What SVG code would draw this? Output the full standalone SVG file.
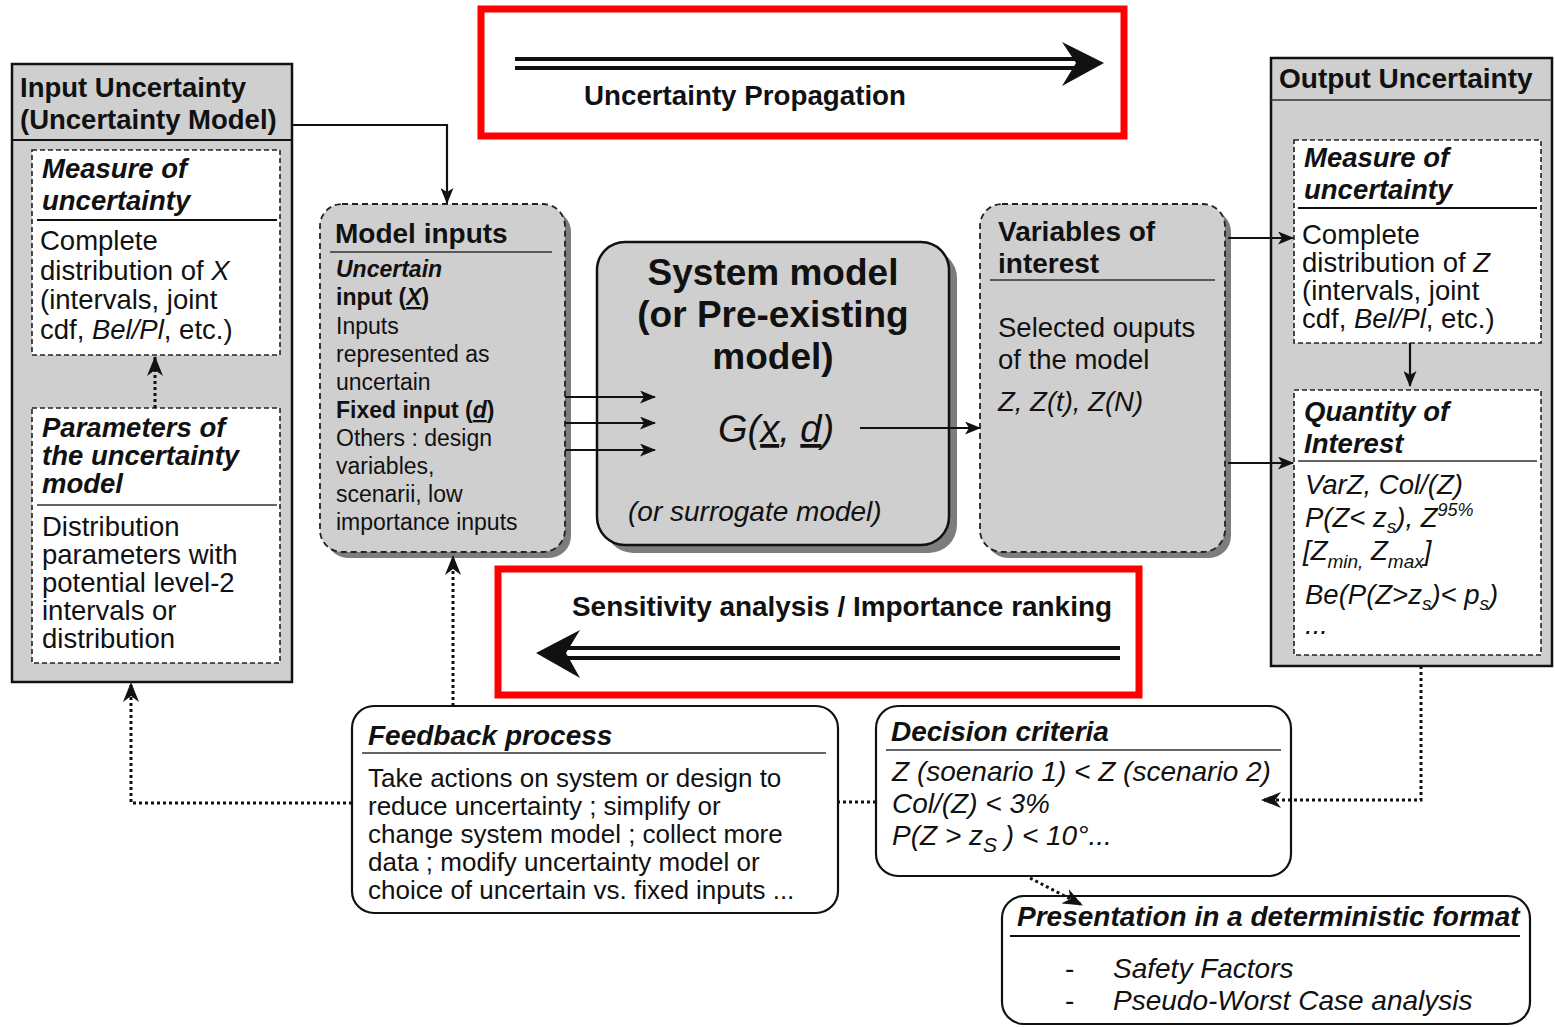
<svg xmlns="http://www.w3.org/2000/svg" width="1555" height="1027" viewBox="0 0 1555 1027">
<style>
  text { font-family: "Liberation Sans", Arial, Helvetica, sans-serif; fill: #111; }
  .b { font-weight: bold; }
  .i { font-style: italic; }
  .bi { font-weight: bold; font-style: italic; }
  .frame { fill: #cfcfcf; stroke: #111; stroke-width: 2.5; }
  .inner { fill: #fff; stroke: #222; stroke-width: 1.6; stroke-dasharray: 5 3; }
  .dashbox { fill: #cfcfcf; stroke: #222; stroke-width: 1.8; stroke-dasharray: 6 4; }
  .solidbox { fill: #cfcfcf; stroke: #111; stroke-width: 2.5; }
  .wbox { fill: #fff; stroke: #111; stroke-width: 2.2; }
  .shadow { fill: #7d7d7d; }
  .rule { stroke: #111; stroke-width: 2; }
  .thin { stroke: #333; stroke-width: 1.3; }
  .conn { fill: none; stroke: #111; stroke-width: 2.2; }
  .dot { fill: none; stroke: #111; stroke-width: 3; stroke-dasharray: 3 3; }
  .red { fill: none; stroke: #ff0000; stroke-width: 7; }
  .dbl { stroke: #111; stroke-width: 4; }
  .t26 { font-size: 27.5px; }
  .t22 { font-size: 23px; }
  .t25 { font-size: 26px; }
  .h28 { font-size: 28px; }
</style>
<defs>
  <marker id="ah" viewBox="0 0 16 13" refX="15" refY="6.5" markerWidth="16" markerHeight="13" markerUnits="userSpaceOnUse" orient="auto">
    <path d="M0,0 L16,6.5 L0,13 L4,6.5 Z" fill="#111"/>
  </marker>
  <marker id="ahd" viewBox="0 0 20 16" refX="19" refY="8" markerWidth="20" markerHeight="16" markerUnits="userSpaceOnUse" orient="auto">
    <path d="M0,0 L20,8 L0,16 L6,8 Z" fill="#111"/>
  </marker>
</defs>

<rect width="1555" height="1027" fill="#fff"/>

<!-- Input uncertainty (outer frame with two nested boxes) -->
<g id="input-uncertainty">
  <rect class="frame" x="12" y="64" width="280" height="618"/>
  <text class="b t26" x="20" y="97">Input Uncertainty</text>
  <text class="b t26" x="20" y="129">(Uncertainty Model)</text>
  <line class="rule" x1="12" y1="140" x2="292" y2="140"/>
</g>
<g id="input-measure">
  <rect class="inner" x="32" y="150" width="248" height="205"/>
  <text class="bi t26" x="42" y="178">Measure of</text>
  <text class="bi t26" x="42" y="210">uncertainty</text>
  <line class="rule" x1="37" y1="220" x2="277" y2="220"/>
  <text class="t26" x="40" y="250">Complete</text>
  <text class="t26" x="40" y="280">distribution of <tspan class="i">X</tspan></text>
  <text class="t26" x="40" y="309">(intervals, joint</text>
  <text class="t26" x="40" y="339">cdf, <tspan class="i">Bel/Pl</tspan>, etc.)</text>
</g>
<g id="input-parameters">
  <rect class="inner" x="32" y="408" width="248" height="255"/>
  <text class="bi t26" x="42" y="437">Parameters of</text>
  <text class="bi t26" x="42" y="465">the uncertainty</text>
  <text class="bi t26" x="42" y="493">model</text>
  <line class="thin" x1="37" y1="505" x2="277" y2="505"/>
  <text class="t26" x="42" y="536">Distribution</text>
  <text class="t26" x="42" y="564">parameters with</text>
  <text class="t26" x="42" y="592">potential level-2</text>
  <text class="t26" x="42" y="620">intervals or</text>
  <text class="t26" x="42" y="648">distribution</text>
</g>

<!-- Model inputs -->
<g id="model-inputs">
  <rect class="shadow" x="326" y="210" width="245" height="348" rx="22"/>
  <rect class="dashbox" x="320" y="204" width="245" height="348" rx="22"/>
  <text class="b h28" x="335" y="243">Model inputs</text>
  <line class="thin" x1="330" y1="252" x2="552" y2="252"/>
  <text class="bi t22" x="336" y="277">Uncertain</text>
  <text class="b t22" x="336" y="305">input (<tspan class="i" text-decoration="underline">X</tspan>)</text>
  <text class="t22" x="336" y="334">Inputs</text>
  <text class="t22" x="336" y="362">represented as</text>
  <text class="t22" x="336" y="390">uncertain</text>
  <text class="b t22" x="336" y="418">Fixed input (<tspan class="i" text-decoration="underline">d</tspan>)</text>
  <text class="t22" x="336" y="446">Others : design</text>
  <text class="t22" x="336" y="474">variables,</text>
  <text class="t22" x="336" y="502">scenarii, low</text>
  <text class="t22" x="336" y="530">importance inputs</text>
</g>

<!-- System model -->
<g id="system-model">
  <rect class="shadow" x="605" y="250" width="352" height="303" rx="28"/>
  <rect class="solidbox" x="597" y="242" width="352" height="303" rx="28"/>
  <text class="b" font-size="37" x="773" y="285" text-anchor="middle">System model</text>
  <text class="b" font-size="37" x="773" y="327" text-anchor="middle">(or Pre-existing</text>
  <text class="b" font-size="37" x="773" y="369" text-anchor="middle">model)</text>
  <text class="i" font-size="38" x="718" y="442">G(<tspan text-decoration="underline">x</tspan>, <tspan text-decoration="underline">d</tspan>)</text>
  <text class="i h28" x="628" y="521">(or surrogate model)</text>
</g>

<!-- Variables of interest -->
<g id="variables-of-interest">
  <rect class="shadow" x="986" y="210" width="245" height="348" rx="22"/>
  <rect class="dashbox" x="980" y="204" width="245" height="348" rx="22"/>
  <text class="b h28" x="998" y="241">Variables of</text>
  <text class="b h28" x="998" y="273">interest</text>
  <line class="thin" x1="990" y1="280" x2="1215" y2="280"/>
  <text class="t26" x="998" y="337">Selected ouputs</text>
  <text class="t26" x="998" y="369">of the model</text>
  <text class="i t26" x="998" y="411">Z, Z(t), Z(N)</text>
</g>

<!-- Output uncertainty -->
<g id="output-uncertainty">
  <rect class="frame" x="1271" y="58" width="281" height="608"/>
  <text class="b h28" x="1279" y="88">Output Uncertainty</text>
  <line class="thin" x1="1271" y1="100" x2="1552" y2="100"/>
</g>
<g id="output-measure">
  <rect class="inner" x="1294" y="140" width="247" height="203"/>
  <text class="bi t26" x="1304" y="167">Measure of</text>
  <text class="bi t26" x="1304" y="199">uncertainty</text>
  <line class="rule" x1="1298" y1="208" x2="1537" y2="208"/>
  <text class="t26" x="1302" y="244">Complete</text>
  <text class="t26" x="1302" y="272">distribution of <tspan class="i">Z</tspan></text>
  <text class="t26" x="1302" y="300">(intervals, joint</text>
  <text class="t26" x="1302" y="328">cdf, <tspan class="i">Bel/Pl</tspan>, etc.)</text>
</g>
<g id="quantity-of-interest">
  <rect class="inner" x="1294" y="390" width="247" height="265"/>
  <text class="bi t26" x="1304" y="421">Quantity of</text>
  <text class="bi t26" x="1304" y="453">Interest</text>
  <line class="thin" x1="1298" y1="461" x2="1537" y2="461"/>
  <text class="i t26" x="1305" y="494">VarZ, Col/(Z)</text>
  <text class="i t26" x="1305" y="527">P(Z&lt; z<tspan font-size="19" dy="6">s</tspan><tspan dy="-6">), Z</tspan><tspan font-size="18" dy="-11">95%</tspan></text>
  <text class="i t26" x="1303" y="560">[Z<tspan font-size="19" dy="8">min,</tspan><tspan dy="-8"> Z</tspan><tspan font-size="19" dy="8">max</tspan><tspan dy="-8">]</tspan></text>
  <text class="i t26" x="1305" y="604">Be(P(Z&gt;z<tspan font-size="19" dy="6">s</tspan><tspan dy="-6">)&lt; p</tspan><tspan font-size="19" dy="6">s</tspan><tspan dy="-6">)</tspan></text>
  <text class="i t26" x="1305" y="634">...</text>
</g>

<!-- Propagation and sensitivity banners -->
<g id="uncertainty-propagation">
  <rect class="red" x="481" y="9" width="643" height="127"/>
  <line class="dbl" x1="515" y1="59" x2="1080" y2="59"/>
  <line class="dbl" x1="515" y1="68" x2="1080" y2="68"/>
  <path d="M1104,63 L1062,42 L1076,63 L1062,86 Z" fill="#111"/>
  <text class="b t26" x="584" y="105" textLength="322" lengthAdjust="spacingAndGlyphs">Uncertainty Propagation</text>
</g>
<g id="sensitivity-analysis">
  <rect class="red" x="498" y="569" width="641" height="126"/>
  <text class="b t26" x="572" y="616" textLength="540" lengthAdjust="spacingAndGlyphs">Sensitivity analysis / Importance ranking</text>
  <line class="dbl" x1="560" y1="648" x2="1120" y2="648"/>
  <line class="dbl" x1="560" y1="658" x2="1120" y2="658"/>
  <path d="M536,653 L580,630 L566,653 L580,678 Z" fill="#111"/>
</g>

<!-- Feedback process -->
<g id="feedback-process">
  <rect class="wbox" x="352" y="706" width="486" height="207" rx="22"/>
  <text class="bi h28" x="368" y="745">Feedback process</text>
  <line class="thin" x1="362" y1="753" x2="826" y2="753"/>
  <text class="t25" x="368" y="787">Take actions on system or design to</text>
  <text class="t25" x="368" y="815">reduce uncertainty ; simplify or</text>
  <text class="t25" x="368" y="843">change system model ; collect more</text>
  <text class="t25" x="368" y="871">data ; modify uncertainty model or</text>
  <text class="t25" x="368" y="899">choice of uncertain vs. fixed inputs ...</text>
</g>

<!-- Decision criteria -->
<g id="decision-criteria">
  <rect class="wbox" x="876" y="706" width="415" height="170" rx="22"/>
  <text class="bi h28" x="891" y="741">Decision criteria</text>
  <line class="thin" x1="886" y1="750" x2="1281" y2="750"/>
  <text class="i h28" x="892" y="781">Z (soenario 1) &lt; Z (scenario 2)</text>
  <text class="i h28" x="892" y="813">Col/(Z) &lt; 3%</text>
  <text class="i h28" x="892" y="845">P(Z &gt; z<tspan font-size="21" dy="7">S</tspan><tspan dy="-7"> ) &lt; 10°...</tspan></text>
</g>

<!-- Presentation in a deterministic format -->
<g id="deterministic-format">
  <rect class="wbox" x="1002" y="896" width="528" height="128" rx="22"/>
  <text class="bi h28" x="1017" y="926">Presentation in a deterministic format</text>
  <line class="rule" x1="1010" y1="936" x2="1520" y2="936"/>
  <text class="h28" x="1065" y="978">-</text>
  <text class="i h28" x="1113" y="978">Safety Factors</text>
  <text class="h28" x="1065" y="1010">-</text>
  <text class="i h28" x="1113" y="1010">Pseudo-Worst Case analysis</text>
</g>

<!-- Connectors -->
<g id="connectors">
  <polyline class="conn" points="292,125 447,125 447,203" marker-end="url(#ah)"/>
  <line class="conn" x1="565" y1="397" x2="655" y2="397" marker-end="url(#ah)"/>
  <line class="conn" x1="565" y1="423" x2="655" y2="423" marker-end="url(#ah)"/>
  <line class="conn" x1="565" y1="450" x2="655" y2="450" marker-end="url(#ah)"/>
  <line class="conn" x1="860" y1="428" x2="980" y2="428" marker-end="url(#ah)"/>
  <line class="conn" x1="1228" y1="238" x2="1293" y2="238" marker-end="url(#ah)"/>
  <line class="conn" x1="1228" y1="463" x2="1293" y2="463" marker-end="url(#ah)"/>
  <line class="conn" x1="1410" y1="343" x2="1410" y2="386" marker-end="url(#ah)"/>
  <line class="dot" x1="155" y1="408" x2="155" y2="357" marker-end="url(#ahd)"/>
  <polyline class="dot" points="1421,666 1421,800 1262,800" marker-end="url(#ahd)"/>
  <line class="dot" x1="876" y1="802" x2="838" y2="802"/>
  <polyline class="dot" points="352,803 131,803 131,683" marker-end="url(#ahd)"/>
  <line class="dot" x1="453" y1="706" x2="453" y2="556" marker-end="url(#ahd)"/>
  <line class="dot" x1="1030" y1="878" x2="1082" y2="905" marker-end="url(#ahd)"/>
</g>
</svg>
